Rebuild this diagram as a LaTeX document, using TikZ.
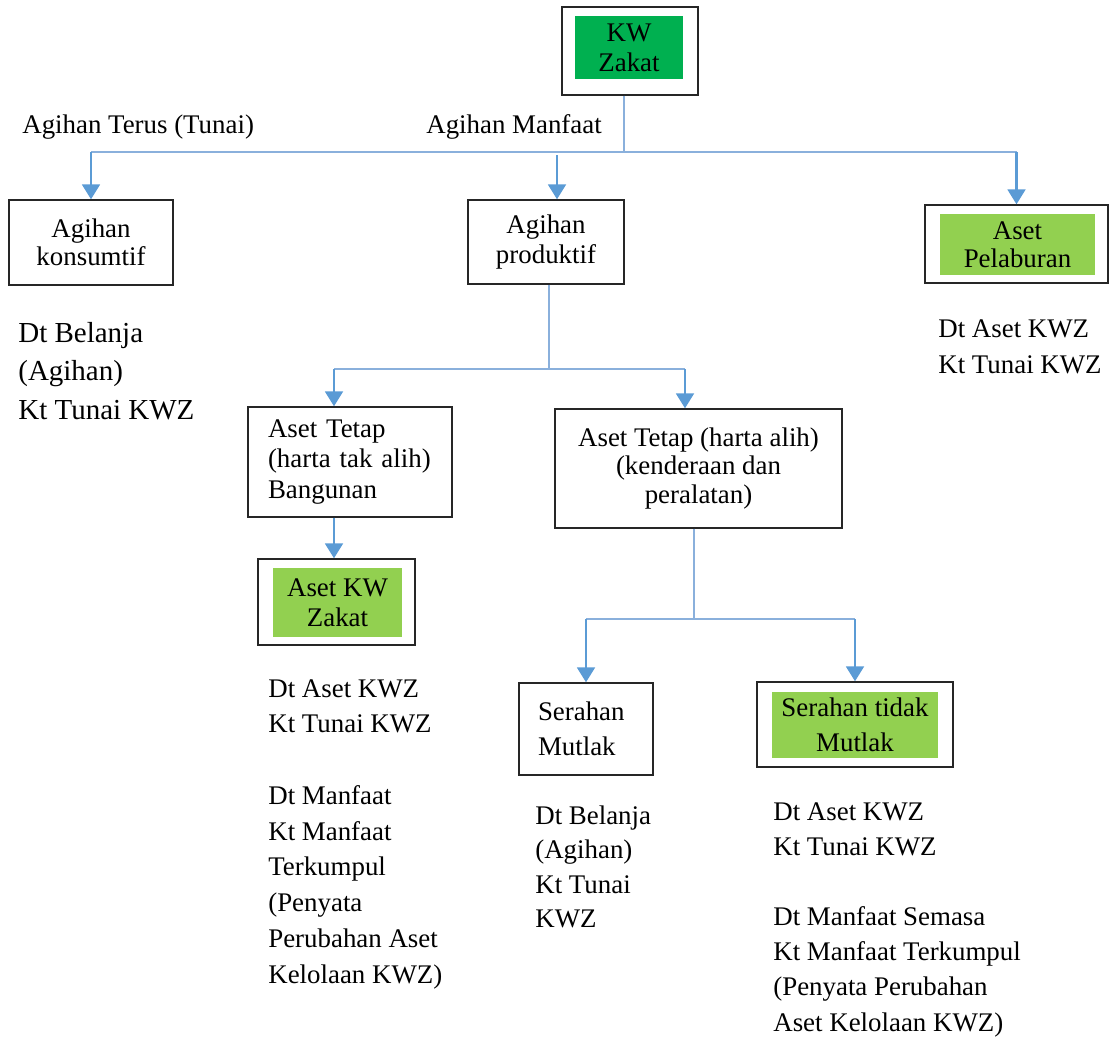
\documentclass[tikz,border=0pt]{standalone}
\usepackage{fontspec}
\setmainfont{Liberation Serif}
\usetikzlibrary{arrows.meta}
\definecolor{kwgreen}{HTML}{00B050}
\definecolor{litegreen}{HTML}{92D050}
\definecolor{linkblue}{HTML}{5B9BD5}
\definecolor{stemblue}{HTML}{8AB0DC}
\tikzset{
    box/.style={draw=black!85, line width=0.75pt, inner sep=0pt, align=center,
        font=\fontsize{15.3}{17}\selectfont},
    fillbox/.style={fill=#1, inner sep=0pt, align=center,
        font=\fontsize{15.3}{17}\selectfont},
    note/.style={anchor=north west, inner sep=0pt, align=left,
        font=\fontsize{15.3}{20.2}\selectfont},
    label/.style={anchor=base west, inner sep=0pt, font=\fontsize{15.3}{17}\selectfont},
    trunk/.style={draw=stemblue, line width=0.75pt},
    arr/.style={draw=linkblue, line width=1.7pt, -{Triangle[width=10pt,length=8.5pt]}}
}
\begin{document}
\begin{tikzpicture}[x=0.02cm, y=-0.02cm]
        \useasboundingbox (0,0) rectangle (1110,1038);

        % top level
        \node[box, minimum width=2.72cm, minimum height=1.76cm] (kw) at (630,51) {};
        \node[fillbox=kwgreen, minimum width=2.16cm, minimum height=1.26cm] (kwin) at (629,47.5) {KW\\Zakat};
        \node[label] (terus) at (22,133) {Agihan Terus (Tunai)};
        \node[label] (manfaat) at (426,133) {Agihan Manfaat};

        \node[box, minimum width=3.28cm, minimum height=1.70cm, font=\fontsize{15.3}{16}\selectfont] (konsumtif) at (91,242.5) {Agihan\\konsumtif};
        \node[box, minimum width=3.12cm, minimum height=1.68cm] (produktif) at (546,242) {Agihan\\produktif};
        \node[box, minimum width=3.66cm, minimum height=1.56cm] (pelaburan) at (1016.5,244) {};
        \node[fillbox=litegreen, minimum width=3.10cm, minimum height=1.22cm, font=\fontsize{15.3}{16}\selectfont] (pelaburanin) at (1017.5,244.5) {Aset\\Pelaburan};

        \coordinate (jTop) at (624,152);
        \coordinate (aM) at (557,155);
        \draw[trunk] (kw.south -| jTop) -- (jTop);
        \draw[trunk] (konsumtif.north |- jTop) -- (pelaburan.north |- jTop);
        \draw[arr] (konsumtif.north |- jTop) -- (konsumtif.north);
        \draw[arr] (aM) -- (aM |- produktif.north);
        \draw[arr] (pelaburan.north |- jTop) -- (pelaburan.north);

        \node[note, font=\fontsize{16.5}{21.9}\selectfont] (jurnalK) at (18,322) {Dt Belanja\\(Agihan)\\Kt Tunai KWZ};
        \node[note, font=\fontsize{15.3}{20.5}\selectfont] (jurnalP) at (938,319) {Dt Aset KWZ\\Kt Tunai KWZ};

        % agihan produktif
        \node[box, text width=3.28cm, inner xsep=0.4cm, align=left, minimum height=2.2cm, font=\fontsize{15.3}{17.6}\selectfont] (tetapA) at (350,462) {Aset Tetap\\(harta tak alih)\\Bangunan};
        \node[box, minimum width=5.74cm, minimum height=2.38cm, font=\fontsize{15.3}{16}\selectfont] (tetapB) at (698.5,468.5) {Aset Tetap (harta alih)\\(kenderaan dan\\peralatan)};

        \coordinate (jMid) at (549,369);
        \coordinate (aA) at (334,369);
        \coordinate (aB) at (685,369);
        \draw[trunk] (produktif.south -| jMid) -- (jMid);
        \draw[trunk] (aA) -- (aB);
        \draw[arr] (aA) -- (aA |- tetapA.north);
        \draw[arr] (aB) -- (aB |- tetapB.north);

        \node[box, minimum width=3.14cm, minimum height=1.72cm] (zakatA) at (336.5,602) {};
        \node[fillbox=litegreen, minimum width=2.58cm, minimum height=1.38cm] (zakatAin) at (337.5,602.5) {Aset KW\\Zakat};
        \draw[arr] (tetapA.south -| aA) -- (zakatA.north -| aA);

        \node[note, font=\fontsize{15.3}{19.9}\selectfont] (jurnalA) at (268,679) {Dt Aset KWZ\\Kt Tunai KWZ};
        \node[note, font=\fontsize{15.3}{20.4}\selectfont] (manfaatA) at (268,785) {Dt Manfaat\\Kt Manfaat\\Terkumpul\\(Penyata\\Perubahan Aset\\Kelolaan KWZ)};

        % harta alih
        \node[box, text width=1.92cm, inner xsep=0.38cm, align=left, minimum height=1.84cm, font=\fontsize{15.3}{20}\selectfont] (mutlak) at (586,729) {Serahan\\Mutlak};
        \node[box, minimum width=3.92cm, minimum height=1.70cm] (tidak) at (855,724.5) {};
        \node[fillbox=litegreen, minimum width=3.32cm, minimum height=1.32cm, font=\fontsize{15.3}{20}\selectfont] (tidakin) at (855,725) {Serahan tidak\\Mutlak};

        \coordinate (jLow) at (694,619);
        \draw[trunk] (tetapB.south -| jLow) -- (jLow);
        \draw[trunk] (mutlak.north |- jLow) -- (tidak.north |- jLow);
        \draw[arr] (mutlak.north |- jLow) -- (mutlak.north);
        \draw[arr] (tidak.north |- jLow) -- (tidak.north);

        \node[note, font=\fontsize{15.3}{19.7}\selectfont] (jurnalS) at (535,805) {Dt Belanja\\(Agihan)\\Kt Tunai\\KWZ};
        \node[note] (jurnalT) at (773,802) {Dt Aset KWZ\\Kt Tunai KWZ};
        \node[note, font=\fontsize{15.3}{20.1}\selectfont] (manfaatT) at (773,906) {Dt Manfaat Semasa\\Kt Manfaat Terkumpul\\(Penyata Perubahan\\Aset Kelolaan KWZ)};
\end{tikzpicture}
\end{document}
